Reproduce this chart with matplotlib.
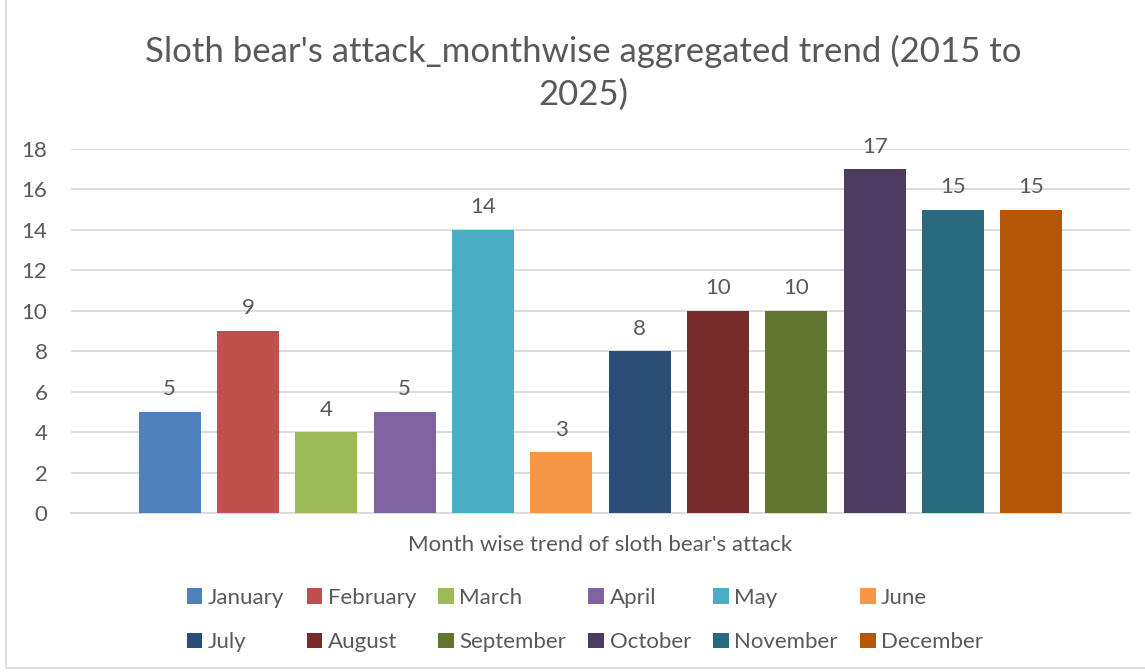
import matplotlib.pyplot as plt
from matplotlib.patches import Rectangle, Patch

# -------------------- data
months = ["January", "February", "March", "April", "May", "June",
          "July", "August", "September", "October", "November", "December"]
attacks = [5, 9, 4, 5, 14, 3, 8, 10, 10, 17, 15, 15]
colors = ["#4F81BD", "#C0504D", "#9BBB59", "#8064A2", "#4BACC6", "#F79646",
          "#2C4D75", "#772C2A", "#5F7530", "#4D3B62", "#276A7C", "#B65708"]
y_ticks = list(range(0, 19, 2))

TEXT = "#595959"
GRID = "#D9D9D9"
W, H = 1145, 672
FS = 16

plt.rcParams["font.family"] = ["Lato", "DejaVu Sans"]

fig = plt.figure(figsize=(W / 100, H / 100), dpi=100)
ax = fig.add_axes([71 / W, 1 - 513 / H, (1130 - 71) / W, (513 - 149) / H])

xs = list(range(len(months)))
ax.bar(xs, attacks, width=0.79, color=colors, zorder=3)
for x, v in zip(xs, attacks):
    ax.annotate(str(v), (x, v), xytext=(0, 9), textcoords="offset points",
                ha="center", va="bottom", fontsize=FS, color=TEXT)

ax.set_xlim(-1.26, len(months) - 1 + 1.26)
ax.set_ylim(0, 18)
ax.set_yticks(y_ticks)
ax.set_xticks([])
ax.yaxis.grid(True, color=GRID, lw=1.3, zorder=0)
ax.set_axisbelow(True)
for s in ["top", "right", "left"]:
    ax.spines[s].set_visible(False)
ax.spines["bottom"].set_color(GRID)
ax.spines["bottom"].set_linewidth(1.3)
ax.tick_params(axis="y", length=0, pad=17, labelsize=FS, labelcolor=TEXT)
ax.set_xlabel("Month wise trend of sloth bear's attack", fontsize=FS,
              color=TEXT, labelpad=16)

fig.text(583 / W, 1 - 73 / H,
         "Sloth bear's attack_monthwise aggregated trend (2015 to\n2025)",
         ha="center", va="center", fontsize=25, color=TEXT, linespacing=1.38)

# legend filled row by row: reorder so columns hold (Jan, Jul), (Feb, Aug), ...
order = [i + 6 * r for i in range(6) for r in range(2)]
handles = [Patch(facecolor=colors[i], edgecolor="none") for i in order]
labels = [months[i] for i in order]
fig.legend(handles, labels, loc="center", bbox_to_anchor=(585 / W, 1 - 620 / H),
           ncol=6, frameon=False, fontsize=FS, labelcolor=TEXT,
           handlelength=0.7, handleheight=0.7, handletextpad=0.25,
           columnspacing=1.0, labelspacing=1.1)

# chart border
fig.add_artist(Rectangle((6 / W, 4 / H), 1.2, 1.2, transform=fig.transFigure,
                         fill=False, edgecolor=GRID, lw=1.2))

fig.savefig("out.png", dpi=100)
